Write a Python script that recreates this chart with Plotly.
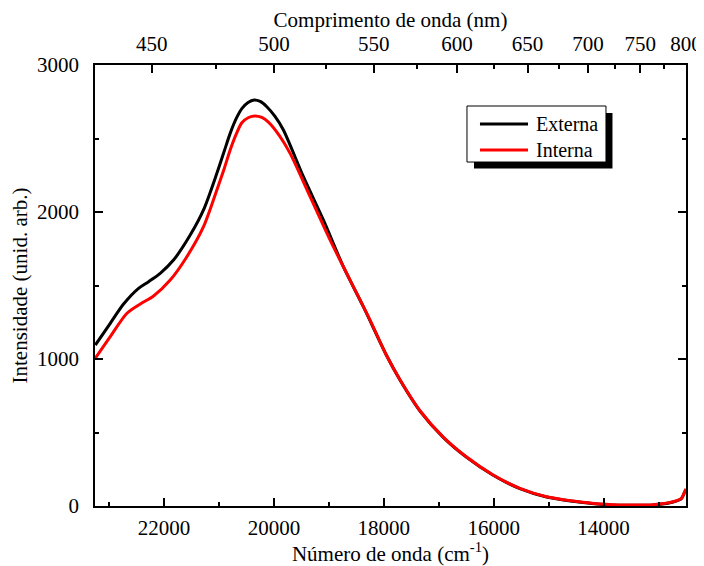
import plotly.graph_objects as go

# Wavenumber (cm^-1) and intensity values
wn_externa = [23250, 22978, 22736, 22463, 22281, 22069, 21827, 21523, 21281, 21038,
              20900, 20796, 20680, 20580, 20470, 20360, 20250, 20129, 19980, 19827,
              19463, 19100, 18736, 18372, 17947, 17705, 17341, 16918, 16492, 16009,
              15523, 15038, 14554, 14065, 13583, 13100, 12736, 12584, 12524, 12500]
int_externa = [1095, 1243, 1374, 1481, 1526, 1583, 1673, 1843, 2014, 2263,
               2418, 2535, 2640, 2705, 2745, 2762, 2752, 2716, 2650, 2558,
               2240, 1946, 1628, 1356, 1022, 857, 646, 467, 331, 209,
               118, 61, 32, 12, 5, 7, 27, 50, 95, 115]

wn_interna = [23250, 22978, 22674, 22432, 22190, 21887, 21584, 21281, 21038, 20900,
              20796, 20680, 20583, 20460, 20341, 20220, 20100, 19900, 19705, 19341,
              18978, 18614, 18250, 17947, 17705, 17341, 16918, 16492, 16009, 15523,
              15038, 14554, 14065, 13583, 13100, 12736, 12584, 12524, 12500]
int_interna = [1005, 1152, 1311, 1374, 1429, 1537, 1696, 1900, 2150, 2300,
               2422, 2535, 2607, 2643, 2653, 2643, 2612, 2520, 2399, 2104,
               1810, 1537, 1265, 1022, 859, 648, 469, 333, 211, 120,
               63, 34, 14, 7, 9, 29, 52, 97, 115]

# Axis ticks
nm_major = [450, 500, 550, 600, 650, 700, 750, 800]
nm_minor = [475, 525, 575, 625, 675, 725, 775]
x_range = [1e7 / 430, 1e7 / 800]
y_range = [0, 3000]

FONT = "Liberation Serif, Times New Roman, serif"
FS = 21

fig = go.Figure()
fig.add_trace(go.Scatter(x=wn_externa, y=int_externa, mode="lines", name="Externa",
                         line=dict(color="black", width=3, shape="spline", smoothing=0.8)))
fig.add_trace(go.Scatter(x=wn_interna, y=int_interna, mode="lines", name="Interna",
                         line=dict(color="#ff0000", width=3, shape="spline", smoothing=0.8)))
# invisible trace to anchor the top (wavelength) axis
fig.add_trace(go.Scatter(x=wn_externa, y=int_externa, mode="lines", xaxis="x2",
                         line=dict(width=0, color="rgba(0,0,0,0)"), showlegend=False,
                         hoverinfo="skip"))


def axis_common():
    return dict(
        showgrid=False, zeroline=False, showline=True, linecolor="black", linewidth=1.5,
        ticks="inside", ticklen=8, tickwidth=1.5, tickcolor="black", automargin=False,
        tickfont=dict(family=FONT, size=FS, color="black"),
    )


def minor_common(**kw):
    d = dict(ticks="inside", ticklen=4, tickwidth=1.5, tickcolor="black")
    d.update(kw)
    return d


# the page body adds an 8px offset, so the figure is 8px smaller and margins shifted
fig.update_layout(
    width=696, height=558,
    margin=dict(l=87, r=18, t=57, b=60, autoexpand=False),
    paper_bgcolor="white", plot_bgcolor="white",
    font=dict(family=FONT, size=FS, color="black"),
    showlegend=False,
    xaxis=dict(
        **axis_common(),
        range=x_range, dtick=2000, tick0=0, tickformat="d",
        minor=minor_common(dtick=1000, tick0=0),
        title=dict(text="Número de onda (cm<sup>-1</sup>)",
                   font=dict(family=FONT, size=FS, color="black"), standoff=6),
        ticklabelstandoff=2,
    ),
    xaxis2=dict(
        **axis_common(),
        overlaying="x", side="top", range=x_range,
        tickmode="array", tickvals=[1e7 / v for v in nm_major], ticktext=[str(v) for v in nm_major],
        minor=minor_common(tickmode="array", tickvals=[1e7 / v for v in nm_minor]),
        title=dict(text="Comprimento de onda (nm)",
                   font=dict(family=FONT, size=FS, color="black"), standoff=3),
        ticklabelstandoff=4,
    ),
    yaxis=dict(
        **axis_common(),
        range=y_range, dtick=1000, mirror="ticks",
        minor=minor_common(dtick=500),
        title=dict(text="Intensidade (unid. arb.)",
                   font=dict(family=FONT, size=FS, color="black"), standoff=9),
        ticklabelstandoff=10,
    ),
)

# Legend box with drop shadow (drawn by hand to match the reference style)
legend_items = [("Externa", "black", 0.8662), ("Interna", "#ff0000", 0.8073)]
shapes = [
    dict(type="rect", xref="paper", yref="paper", x0=0.6413, x1=0.8756, y0=0.7653, y1=0.8912,
         fillcolor="black", line=dict(width=0), layer="above"),
    dict(type="rect", xref="paper", yref="paper", x0=0.6294, x1=0.8646, y0=0.7800, y1=0.9070,
         fillcolor="white", line=dict(color="black", width=1), layer="above"),
]
annotations = []
for name, color, yy in legend_items:
    shapes.append(dict(type="line", xref="paper", yref="paper", x0=0.6514, x1=0.7327, y0=yy, y1=yy,
                       line=dict(color=color, width=3), layer="above"))
    annotations.append(dict(text=name, xref="paper", yref="paper", x=0.7428, y=yy,
                            xanchor="left", yanchor="middle", showarrow=False,
                            font=dict(family=FONT, size=20, color="black")))
fig.update_layout(shapes=shapes, annotations=annotations)

fig.write_html("out.html")
